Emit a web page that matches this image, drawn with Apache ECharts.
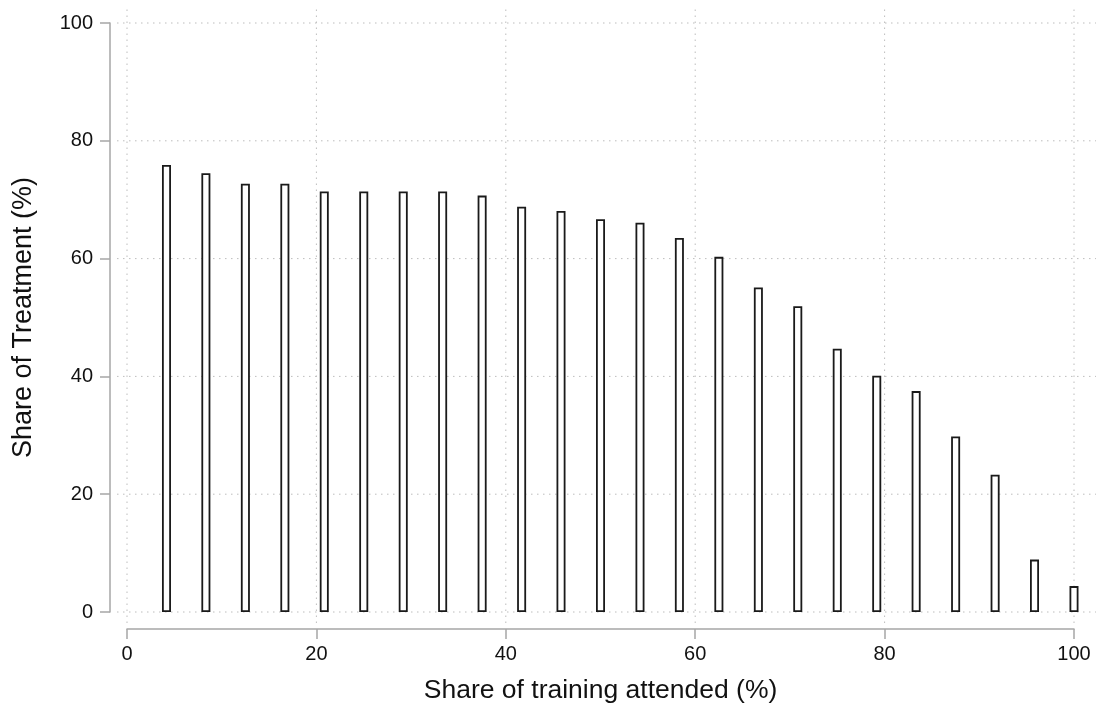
<!DOCTYPE html>
<html>
<head>
<meta charset="utf-8">
<script src="https://cdn.jsdelivr.net/npm/echarts@6/dist/echarts.min.js"></script>
<style>html,body{margin:0;padding:0;background:#fff;}#c{width:1102px;height:710px;}</style>
</head>
<body>
<div id="c"></div>
<script>
const attendedShare = [4.17, 8.33, 12.5, 16.67, 20.83, 25, 29.17, 33.33, 37.5, 41.67, 45.83, 50, 54.17, 58.33, 62.5, 66.67, 70.83, 75, 79.17, 83.33, 87.5, 91.67, 95.83, 100];
const treatmentShare = [75.9, 74.5, 72.7, 72.7, 71.4, 71.4, 71.4, 71.4, 70.7, 68.8, 68.1, 66.7, 66.1, 63.5, 60.3, 55.1, 51.9, 44.7, 40.1, 37.5, 29.8, 23.3, 8.9, 4.4];
const xTicks = [0, 20, 40, 60, 80, 100];
const yTicks = [0, 20, 40, 60, 80, 100];

const font = 'Liberation Sans, Arial, Helvetica, sans-serif';
const chart = echarts.init(document.getElementById('c'), null, {renderer: 'canvas'});
const axisCol = '#a6a6a6';
const gridCol = '#bdbdbd';
const dotted = {stroke: gridCol, lineWidth: 1, lineDash: [1.5, 4.5]};

function hGrid(params, api) {
  const v = api.value(0);
  const a = api.coord([0, v]);
  const b = api.coord([100, v]);
  return {type: 'line', shape: {x1: a[0] - 10, y1: a[1], x2: b[0] + 22, y2: b[1]}, style: dotted, silent: true};
}
function vGrid(params, api) {
  const v = api.value(0);
  const a = api.coord([v, 0]);
  const b = api.coord([v, 100]);
  return {type: 'line', shape: {x1: a[0], y1: a[1] + 11, x2: b[0], y2: b[1] - 15}, style: dotted, silent: true};
}

chart.setOption({
  animation: false,
  backgroundColor: '#fff',
  grid: {left: 127, right: 28, top: 23, bottom: 98, containLabel: false, outerBoundsMode: 'none'},
  xAxis: {
    type: 'value', min: 0, max: 100, interval: 20, offset: 17,
    name: 'Share of training attended (%)', nameLocation: 'middle', nameGap: 48, nameMoveOverlap: false,
    nameTextStyle: {fontFamily: font, fontSize: 26.5, color: '#111'},
    axisLine: {show: true, onZero: false, lineStyle: {color: axisCol, width: 1.5}},
    axisTick: {show: true, length: 10, lineStyle: {color: axisCol, width: 1.5}},
    axisLabel: {fontFamily: font, fontSize: 20, color: '#111', margin: 15,
      formatter: v => xTicks.includes(v) ? String(v) : ''},
    splitLine: {show: false}
  },
  yAxis: {
    type: 'value', min: 0, max: 100, interval: 20, offset: 17,
    name: 'Share of Treatment (%)', nameLocation: 'middle', nameGap: 73, nameMoveOverlap: false,
    nameTextStyle: {fontFamily: font, fontSize: 27, color: '#111'},
    axisLine: {show: true, onZero: false, lineStyle: {color: axisCol, width: 1.5}},
    axisTick: {show: true, length: 10, lineStyle: {color: axisCol, width: 1.5}},
    axisLabel: {fontFamily: font, fontSize: 20, color: '#111', margin: 17,
      formatter: v => yTicks.includes(v) ? String(v) : ''},
    splitLine: {show: false}
  },
  series: [
    {type: 'custom', renderItem: hGrid, data: yTicks.map(v => [v]), clip: false, z: 1, silent: true},
    {type: 'custom', renderItem: vGrid, data: xTicks.map(v => [v]), clip: false, z: 1, silent: true},
    {
      type: 'bar',
      barWidth: 9,
      data: attendedShare.map((x, i) => [x, treatmentShare[i]]),
      itemStyle: {color: '#fff', borderColor: '#1a1a1a', borderWidth: 1.8},
      z: 3
    }
  ]
});
</script>
</body>
</html>
